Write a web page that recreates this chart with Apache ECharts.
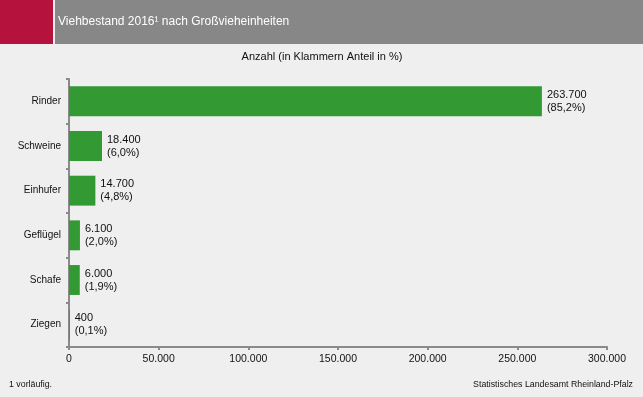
<!DOCTYPE html>
<html><head><meta charset="utf-8">
<script src="https://cdn.jsdelivr.net/npm/echarts@6/dist/echarts.min.js"></script>
<style>html,body{margin:0;padding:0;background:#eeefee;}#c{width:643px;height:397px;}</style>
</head><body><div id="c"></div>
<script>
const categories = ["Rinder","Schweine","Einhufer","Geflügel","Schafe","Ziegen"];
const values = [263700,18400,14700,6100,6000,400];
const shares = ["85,2","6,0","4,8","2,0","1,9","0,1"];
const xTicks = [0,50000,100000,150000,200000,250000,300000];

const fmt = v => String(v).replace(/\B(?=(\d{3})+(?!\d))/g, ".");
const chart = echarts.init(document.getElementById('c'), null, {renderer:'canvas'});
const F = '"Liberation Sans", Arial, sans-serif';
chart.setOption({
  backgroundColor:'#eeefee',
  animation:false,
  graphic:[
    {type:'rect', shape:{x:0,y:0,width:53,height:44}, style:{fill:'#b5123e'}},
    {type:'rect', shape:{x:55,y:0,width:588,height:44}, style:{fill:'#878787'}},
    {type:'text', x:58, y:22, style:{text:'Viehbestand 2016¹ nach Großvieheinheiten', fill:'#fff', font:'12px '+F, verticalAlign:'middle'}},
    {type:'text', x:322, y:57, style:{text:'Anzahl (in Klammern Anteil in %)', fill:'#111', font:'11px '+F, align:'center', verticalAlign:'middle'}},
    {type:'text', x:9, y:385, style:{text:'1 vorläufig.', fill:'#111', font:'8.8px '+F, verticalAlign:'middle'}},
    {type:'text', x:633, y:385, style:{text:'Statistisches Landesamt Rheinland-Pfalz', fill:'#111', font:'8.8px '+F, align:'right', verticalAlign:'middle'}}
  ],
  grid:{left:69, right:36, top:79, bottom:50, containLabel:false},
  xAxis:{type:'value', min:0, max:300000, interval:50000,
    axisLine:{show:true, lineStyle:{color:'#8a8a8a', width:2}},
    axisTick:{show:true, length:3, lineStyle:{color:'#8a8a8a', width:2}},
    splitLine:{show:false},
    axisLabel:{color:'#111', fontSize:10.5, fontFamily:F, margin:7, formatter:v=>fmt(v)}
  },
  yAxis:{type:'category', inverse:true, data:categories,
    axisLine:{show:true, lineStyle:{color:'#8a8a8a', width:2}},
    axisTick:{show:true, length:3, lineStyle:{color:'#8a8a8a', width:2}},
    axisLabel:{color:'#111', fontSize:10, fontFamily:F, margin:8}
  },
  series:[{type:'bar', data:values, barCategoryGap:'33%',
    itemStyle:{color:'#339933'},
    label:{show:true, position:'right', distance:5, color:'#111', fontSize:11, fontFamily:F, lineHeight:13,
      formatter:p=>fmt(p.value)+'\n('+shares[p.dataIndex]+'%)'}
  }]
});
</script></body></html>
